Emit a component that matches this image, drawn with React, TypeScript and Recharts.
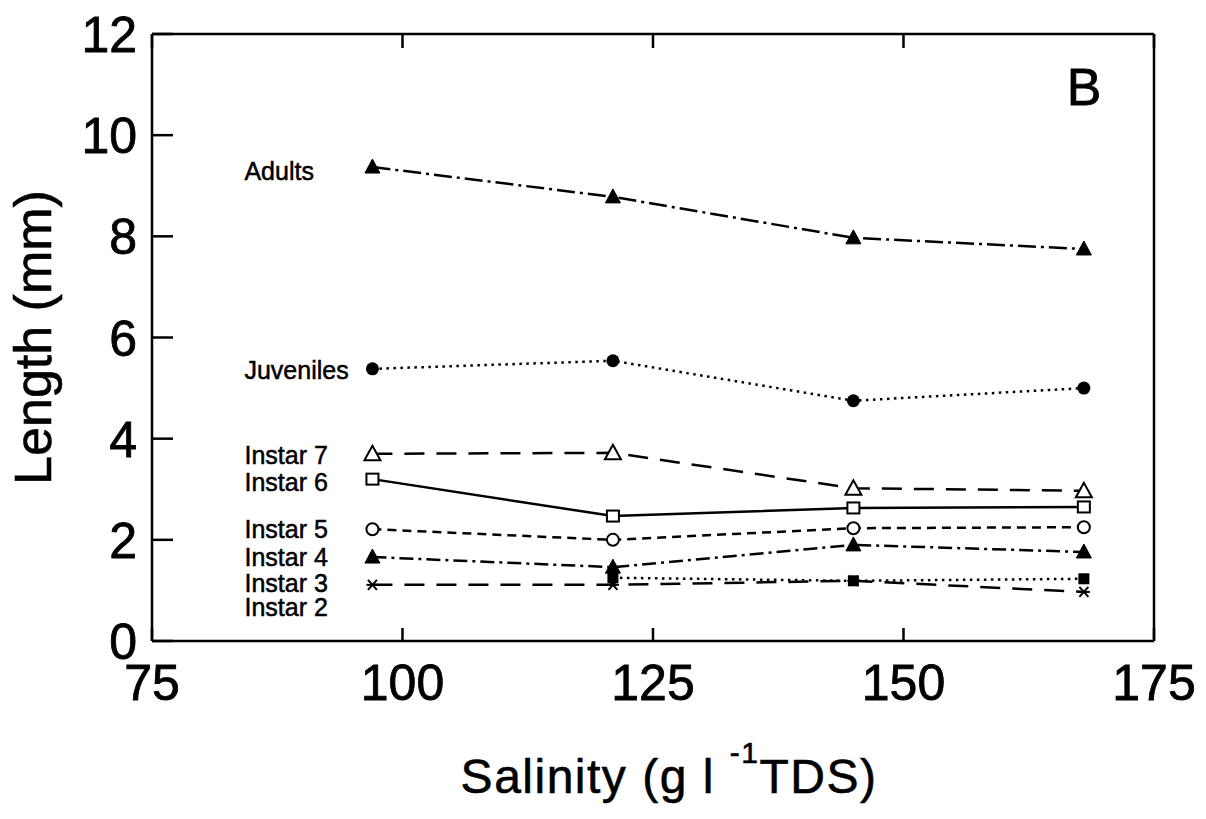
import React from "react";
import { ComposedChart, Line, Scatter, XAxis, YAxis } from "recharts";

// ---- data ----
const salinity = [97, 121, 145, 168];
const adults = [9.37, 8.78, 7.97, 7.75];
const juveniles = [5.38, 5.54, 4.75, 5.0];
const instar7 = [3.7, 3.72, 3.02, 2.97];
const instar6 = [3.2, 2.47, 2.63, 2.65];
const instar5 = [2.21, 2.0, 2.23, 2.25];
const instar4 = [1.66, 1.46, 1.9, 1.76];
const instar3 = [1.11, 1.11, 1.19, 0.97];
const instar2: (number | null)[] = [null, 1.25, 1.19, 1.23];

const xTicks = [75, 100, 125, 150, 175];
const yTicks = [0, 2, 4, 6, 8, 10, 12];

const seriesNames = ["Adults", "Juveniles", "Instar 7", "Instar 6", "Instar 5", "Instar 4", "Instar 3", "Instar 2"];
const seriesLabelLevels = [9.29, 5.36, 3.68, 3.14, 2.21, 1.66, 1.15, 0.67];

const table = salinity.map((x, i) => ({
  x,
  adults: adults[i],
  juveniles: juveniles[i],
  instar7: instar7[i],
  instar6: instar6[i],
  instar5: instar5[i],
  instar4: instar4[i],
  instar3: instar3[i],
  instar2: instar2[i],
}));

const labelRows = seriesNames.map((name, i) => ({ x: salinity[0], y: seriesLabelLevels[i], name }));

const FONT = "'Liberation Sans', Arial, Helvetica, sans-serif";
const INK = "#000";

function makeDot(kind: string) {
  return (props: any) => {
    const { cx, cy, index } = props;
    const key = `${kind}-${index}`;
    if (cx == null || cy == null || props.value == null) return <g key={key} />;
    switch (kind) {
      case "triFilled":
        return (
          <polygon key={key} points={`${cx},${cy - 8} ${cx - 7.5},${cy + 6} ${cx + 7.5},${cy + 6}`} fill={INK} stroke={INK} strokeWidth={1} />
        );
      case "triOpen":
        return (
          <polygon key={key} points={`${cx},${cy - 8} ${cx - 8},${cy + 6.5} ${cx + 8},${cy + 6.5}`} fill="#fff" stroke={INK} strokeWidth={2} />
        );
      case "squareOpen":
        return <rect key={key} x={cx - 6} y={cy - 5.5} width={12} height={11} fill="#fff" stroke={INK} strokeWidth={2} />;
      case "squareFilled":
        return <rect key={key} x={cx - 5.5} y={cy - 5.5} width={11} height={11} fill={INK} />;
      case "circleFilled":
        return <circle key={key} cx={cx} cy={cy} r={6.5} fill={INK} />;
      case "circleOpen":
        return <circle key={key} cx={cx} cy={cy} r={6} fill="#fff" stroke={INK} strokeWidth={2} />;
      case "asterisk":
        return (
          <g key={key} stroke={INK} strokeWidth={2}>
            <line x1={cx - 6} y1={cy} x2={cx + 6} y2={cy} />
            <line x1={cx - 4.5} y1={cy - 5} x2={cx + 4.5} y2={cy + 5} />
            <line x1={cx - 4.5} y1={cy + 5} x2={cx + 4.5} y2={cy - 5} />
          </g>
        );
      default:
        return <g key={key} />;
    }
  };
}

const BottomTick = (props: any) => {
  const { x, y, payload } = props;
  return (
    <g>
      <line x1={x} y1={y} x2={x} y2={y - 13} stroke={INK} strokeWidth={2.5} />
      <text x={x} y={y + 59} textAnchor="middle" fontSize={50} fontFamily={FONT} fill={INK} stroke={INK} strokeWidth={0.8}>
        {payload.value}
      </text>
    </g>
  );
};

const TopTick = (props: any) => {
  const { x, y } = props;
  return <line x1={x} y1={y} x2={x} y2={y + 14} stroke={INK} strokeWidth={2.5} />;
};

const LeftTick = (props: any) => {
  const { x, y, payload } = props;
  return (
    <g>
      <line x1={x} y1={y} x2={x + 21} y2={y} stroke={INK} strokeWidth={2.5} />
      <text x={x - 15} y={y + 18} textAnchor="end" fontSize={50} fontFamily={FONT} fill={INK} stroke={INK} strokeWidth={0.8}>
        {payload.value}
      </text>
    </g>
  );
};

const RightTick = (props: any) => {
  const { x, y } = props;
  return <line x1={x} y1={y} x2={x - 22} y2={y} stroke={INK} strokeWidth={2.5} />;
};

const XTitle = (props: any) => {
  const vb = props.viewBox;
  const cx = vb.x + vb.width / 2 + 16;
  return (
    <text x={cx} y={vb.y + 152} textAnchor="middle" fontSize={48} fontFamily={FONT} fill={INK} stroke={INK} strokeWidth={0.6} letterSpacing={1.5}>
      Salinity (g l{" "}
      <tspan dy={-30} fontSize={30}>
        -1
      </tspan>
      <tspan dy={30}>TDS)</tspan>
    </text>
  );
};

const YTitle = (props: any) => {
  const vb = props.viewBox;
  const cy = vb.y + vb.height / 2;
  const bx = 51;
  return (
    <text
      x={bx}
      y={cy}
      transform={`rotate(-90 ${bx} ${cy})`}
      textAnchor="middle"
      fontSize={52}
      fontFamily={FONT}
      fill={INK}
      stroke={INK}
      strokeWidth={0.6}
    >
      Length (mm)
    </text>
  );
};

const SeriesLabel = (props: any) => {
  const { cx, cy, payload } = props;
  return (
    <text x={cx - 128} y={cy + 9} textAnchor="start" fontSize={25} fontFamily={FONT} fill={INK} stroke={INK} strokeWidth={0.5}>
      {payload.name}
    </text>
  );
};

const lineCommon = {
  xAxisId: "b",
  yAxisId: "l",
  stroke: INK,
  strokeWidth: 2.5,
  isAnimationActive: false,
  activeDot: false as const,
  connectNulls: false,
  type: "linear" as const,
};

export default function App() {
  return (
    <div style={{ position: "absolute", left: 0, top: 0, width: 1206, height: 819, background: "#fff" }}>
      <ComposedChart width={1206} height={819} data={table} margin={{ top: 33, right: 51, bottom: 0, left: 0 }}>
        <XAxis
          xAxisId="b"
          type="number"
          dataKey="x"
          orientation="bottom"
          domain={[75, 175]}
          ticks={xTicks}
          allowDataOverflow
          height={178}
          tickSize={0}
          tickMargin={0}
          tick={BottomTick}
          axisLine={{ stroke: INK, strokeWidth: 2.5 }}
          tickLine={false}
          label={{ content: XTitle }}
        />
        <XAxis
          xAxisId="t"
          type="number"
          dataKey="x"
          orientation="top"
          domain={[75, 175]}
          ticks={xTicks}
          height={1}
          tickSize={0}
          tickMargin={0}
          tick={TopTick}
          axisLine={{ stroke: INK, strokeWidth: 2.5 }}
          tickLine={false}
        />
        <YAxis
          yAxisId="l"
          type="number"
          domain={[0, 12]}
          ticks={yTicks}
          width={152}
          tickSize={0}
          tickMargin={0}
          tick={LeftTick}
          axisLine={{ stroke: INK, strokeWidth: 2.5 }}
          tickLine={false}
          label={{ content: YTitle }}
        />
        <YAxis
          yAxisId="r"
          orientation="right"
          type="number"
          domain={[0, 12]}
          ticks={yTicks}
          width={1}
          tickSize={0}
          tickMargin={0}
          tick={RightTick}
          axisLine={{ stroke: INK, strokeWidth: 2.5 }}
          tickLine={false}
        />
        <Line {...lineCommon} dataKey="instar2" strokeDasharray="2.5 4.5" dot={makeDot("squareFilled")} />
        <Line {...lineCommon} dataKey="instar3" strokeDasharray="20 12" dot={makeDot("asterisk")} />
        <Line {...lineCommon} dataKey="instar4" strokeDasharray="14 5 3 5" dot={makeDot("triFilled")} />
        <Line {...lineCommon} dataKey="instar5" strokeDasharray="9 6" dot={makeDot("circleOpen")} />
        <Line {...lineCommon} dataKey="instar6" dot={makeDot("squareOpen")} />
        <Line {...lineCommon} dataKey="instar7" strokeDasharray="20 12" dot={makeDot("triOpen")} />
        <Line {...lineCommon} dataKey="juveniles" strokeDasharray="2.5 4.5" dot={makeDot("circleFilled")} />
        <Line {...lineCommon} dataKey="adults" strokeDasharray="18 5 3 5" dot={makeDot("triFilled")} />
        <Scatter
          xAxisId="b"
          yAxisId="l"
          data={labelRows}
          dataKey="y"
          shape={SeriesLabel}
          isAnimationActive={false}
        />
      </ComposedChart>
      <svg width={1206} height={819} style={{ position: "absolute", left: 0, top: 0, pointerEvents: "none" }}>
        <text x={1084} y={105} textAnchor="middle" fontSize={52} fontFamily={FONT} fill={INK} stroke={INK} strokeWidth={0.8}>
          B
        </text>
      </svg>
    </div>
  );
}
